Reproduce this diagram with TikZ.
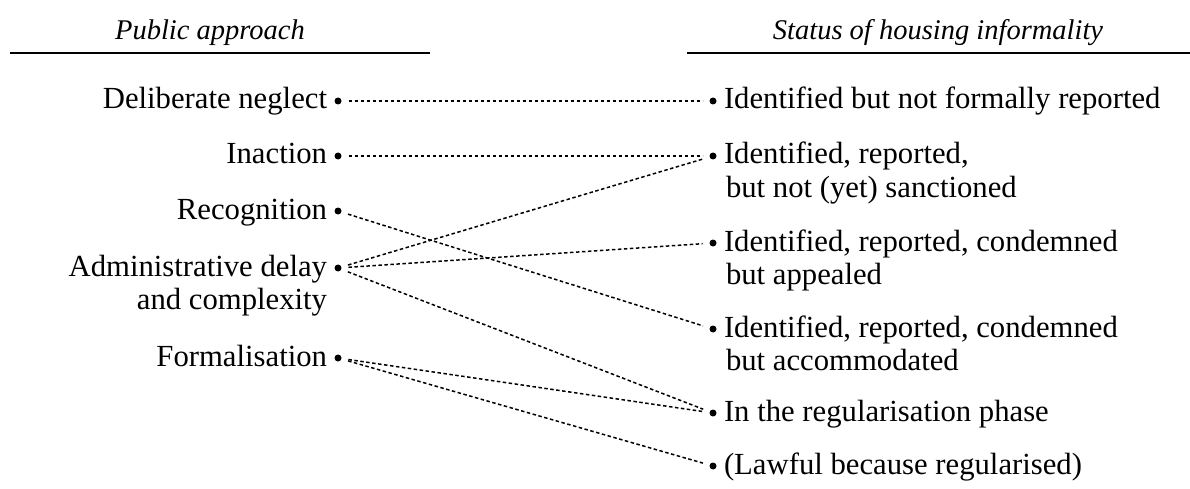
\documentclass[tikz,border=0pt]{standalone}
\usepackage{fontspec}
\setmainfont{Liberation Serif}
\begin{document}
\begin{tikzpicture}[x=1pt,y=-1pt,
  every node/.style={inner sep=0pt, outer sep=0pt},
  body/.style={font=\fontsize{30.7}{34}\selectfont},
  head/.style={font=\fontsize{28.5}{32}\selectfont\itshape, anchor=base},
  ltext/.style={body, anchor=base east},
  rtext/.style={body, anchor=base west},
  dot/.style={circle, fill=black, minimum size=7pt},
  conn/.style={line width=1.5pt, dash pattern=on 3.5pt off 2.5pt, shorten <=7pt, shorten >=7pt},
  rule/.style={line width=2pt}]
\useasboundingbox (0,0) rectangle (1190,489);

% headers
\node[head] (hl) at (210,40) {Public approach};
\node[head] (hr) at (938,40) {Status of housing informality};
\coordinate (hl1) at (10,53);
\coordinate (hl2) at (430,53);
\coordinate (hr1) at (687,53);
\coordinate (hr2) at (1190,53);
\draw[rule] (hl1) -- (hl2);
\draw[rule] (hr1) -- (hr2);

% left column
\node[dot] (L1) at (338,101) {};
\node[dot] (L2) at (338,156) {};
\node[dot] (L3) at (338,211) {};
\node[dot] (L4) at (338,268) {};
\node[dot] (L5) at (338,358) {};
\node[ltext] (tl1) at (327,109) {Deliberate neglect};
\node[ltext] (tl2) at (327,164) {Inaction};
\node[ltext] (tl3) at (327,219) {Recognition};
\node[ltext] (tl4) at (327,276) {Administrative delay};
\node[ltext] (tl4b) at (327,309) {and complexity};
\node[ltext] (tl5) at (327,366) {Formalisation};

% right column
\node[dot] (R1) at (713,101) {};
\node[dot] (R2) at (713,156) {};
\node[dot] (R3) at (713,243) {};
\node[dot] (R4) at (713,329) {};
\node[dot] (R5) at (713,413) {};
\node[dot] (R6) at (713,466) {};
\node[rtext] (tr1) at (724,109) {Identified but not formally reported};
\node[rtext] (tr2) at (724,164) {Identified, reported,};
\node[rtext] (tr2b) at (726,197) {but not (yet) sanctioned};
\node[rtext] (tr3) at (724,251) {Identified, reported, condemned};
\node[rtext] (tr3b) at (726,284) {but appealed};
\node[rtext] (tr4) at (724,337) {Identified, reported, condemned};
\node[rtext] (tr4b) at (726,370) {but accommodated};
\node[rtext] (tr5) at (724,421) {In the regularisation phase};
\node[rtext] (tr6) at (724,474) {(Lawful because regularised)};

% connectors
\draw[conn] (L1) -- (R1);
\draw[conn] (L2) -- (R2);
\draw[conn] (L4) -- (R2);
\draw[conn] (L4) -- (R3);
\draw[conn] (L3) -- (R4);
\draw[conn] (L4) -- (R5);
\draw[conn] (L5) -- (R5);
\draw[conn] (L5) -- (R6);
\end{tikzpicture}
\end{document}
